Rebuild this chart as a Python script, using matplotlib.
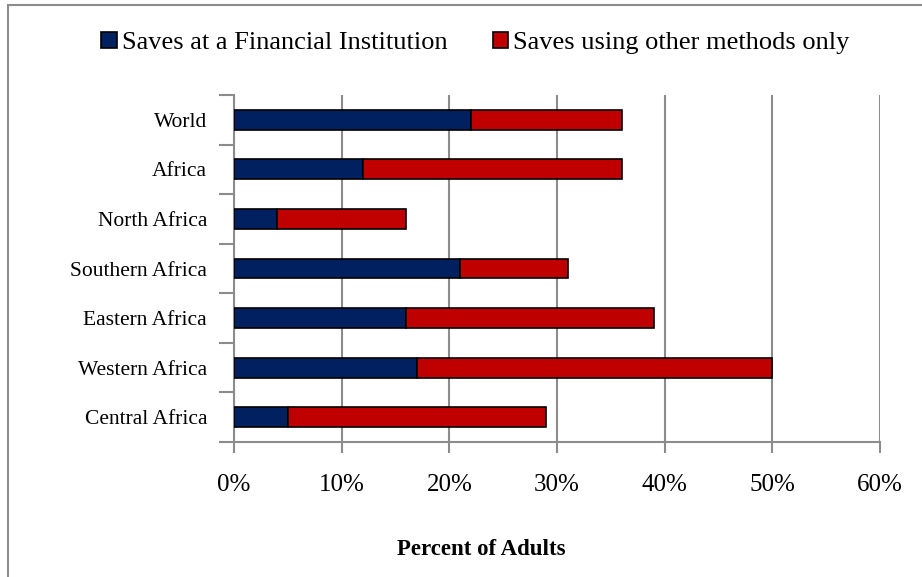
import matplotlib.pyplot as plt
from matplotlib.patches import Rectangle
from matplotlib.ticker import FixedLocator, PercentFormatter

regions = ["World", "Africa", "North Africa", "Southern Africa",
           "Eastern Africa", "Western Africa", "Central Africa"]
financial = [22, 12, 4, 21, 16, 17, 5]
total = [36, 36, 16, 31, 39, 50, 29]
other = [t - f for t, f in zip(total, financial)]

plt.rcParams['font.family'] = ['Liberation Serif', 'DejaVu Serif']
plt.rcParams['font.size'] = 15

fig = plt.figure(figsize=(9.22, 5.77), dpi=100)
ax = fig.add_axes([234 / 922, 1 - 442 / 577, 646 / 922, 347 / 577])

# marco exterior
fig.patches.append(Rectangle((8 / 922, -0.1), 1.2, 1.1 - 5 / 577,
                             transform=fig.transFigure, fill=False,
                             edgecolor='#8c8c8c', linewidth=1.5))

y = list(range(len(regions)))[::-1]
ax.barh(y, financial, height=0.4, color='#002060', edgecolor='black',
        linewidth=1.2, label='Saves at a Financial Institution', zorder=3)
ax.barh(y, other, left=financial, height=0.4, color='#c00000', edgecolor='black',
        linewidth=1.2, label='Saves using other methods only', zorder=3)

ax.set_xlim(0, 60)
ax.set_ylim(-0.5, len(regions) - 0.5)
ax.set_xticks(range(0, 61, 10))
ax.xaxis.set_major_formatter(PercentFormatter(decimals=0))
ax.set_yticks(y)
ax.set_yticklabels(regions, fontsize=15.5)
ax.yaxis.set_minor_locator(FixedLocator([i - 0.5 for i in range(len(regions) + 1)]))
ax.tick_params(axis='y', which='major', length=0, pad=19.4)
ax.tick_params(axis='y', which='minor', length=11, color='#8c8c8c', width=1.5)
ax.tick_params(axis='x', length=8, color='#8c8c8c', width=1.5, pad=15, labelsize=18)

ax.grid(True, axis='x', color='#8c8c8c', linewidth=1.5, zorder=0)
for s in ['top', 'right']:
    ax.spines[s].set_visible(False)
for s in ['left', 'bottom']:
    ax.spines[s].set_color('#8c8c8c')
    ax.spines[s].set_linewidth(1.5)

ax.set_xlabel("Percent of Adults", fontweight='bold', fontsize=16.5)
ax.xaxis.set_label_coords((481 - 234) / 646, -0.279)

fig.legend(loc='center', bbox_to_anchor=(475.5 / 922, 1 - 43 / 577), ncol=2,
           frameon=False, fontsize=19, handlelength=0.57, handleheight=0.57,
           handletextpad=0.19, columnspacing=1.74, borderpad=0)

fig.savefig("out.png", dpi=100)
